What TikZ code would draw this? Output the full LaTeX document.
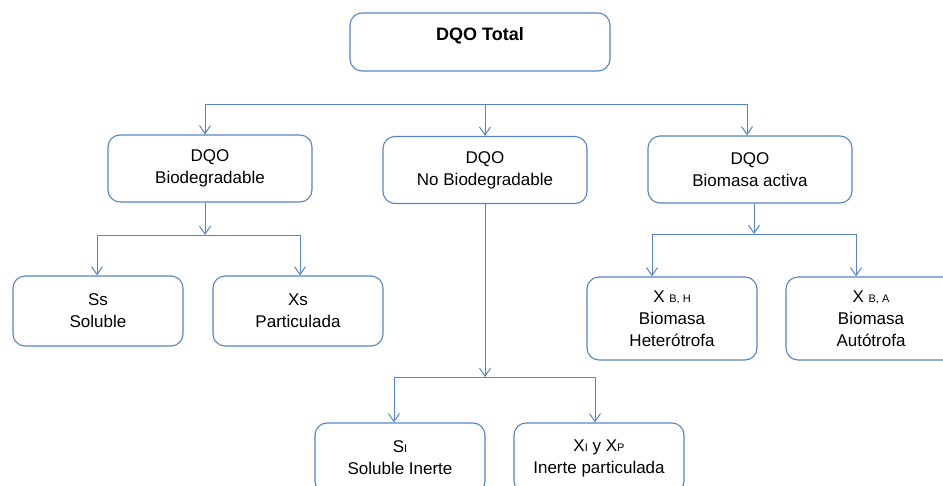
\documentclass[tikz,border=0pt]{standalone}
\usepackage{fontspec}
\setmainfont{Liberation Sans}
\usepackage{xcolor}
\usepackage{tikz}
\definecolor{azul}{HTML}{5585C5}
\usetikzlibrary{arrows.meta}
\usetikzlibrary{positioning}
\newcommand{\peq}[1]{{\fontsize{11}{11}\selectfont #1}}

\begin{document}
\begin{tikzpicture}[x=1pt, y=-1pt,
	caja/.style={draw=azul, line width=1.1pt, rounded corners=12pt, inner sep=0pt,
		minimum width=204pt, minimum height=67pt, align=center,
		font=\fontsize{17}{22}\selectfont},
	hoja/.style={caja, minimum width=170pt, minimum height=70pt},
	linea/.style={draw=azul, line width=1pt},
	flecha/.style={linea, -{Straight Barb[length=8pt,width=11pt]}}]

		%Rahmen
		\useasboundingbox (0,0) rectangle (943,485);
		\clip (0,0) rectangle (943,485);

		%Kasten oben
		\node [caja, minimum width=260pt, minimum height=58pt, text height=13pt, text depth=17pt,
			font=\fontsize{18}{22}\selectfont\bfseries] (total) at (480,42) {DQO Total};

		%Zweite Ebene
		\node [caja] (bio) at (210,168.5) {DQO\\Biodegradable};
		\node [caja] (nobio) at (485,170) {DQO\\No Biodegradable};
		\node [caja] (activa) at (750,169.5) {DQO\\Biomasa activa};

		%Dritte Ebene
		\node [hoja] (ss) at (98,311) {Ss\\Soluble};
		\node [hoja] (xs) at (298,311) {Xs\\Particulada};
		\node [hoja, minimum height=83pt] (xbh) at (672,318.5) {X \peq{B, H}\\Biomasa\\Heterótrofa};
		\node [hoja, minimum height=83pt] (xba) at (871,318.5) {X \peq{B, A}\\Biomasa\\Autótrofa};

		%Vierte Ebene
		\node [hoja] (si) at (400,458) {S\peq{I}\\Soluble Inerte};
		\node [hoja] (xixp) at (599,458) {X\peq{I} y X\peq{P}\\Inerte particulada};

		%Verzweigungen
		\coordinate (t1) at (205,104);
		\coordinate (t2) at (485,104);
		\coordinate (t3) at (747,104);
		\coordinate (bj) at (205,235);
		\coordinate (bl) at (97,235);
		\coordinate (br) at (300,235);
		\coordinate (aj) at (754,234);
		\coordinate (al) at (652,234);
		\coordinate (ar) at (856,234);
		\coordinate (nj) at (485,377);
		\coordinate (nl) at (394,377);
		\coordinate (nr) at (595,377);

		%Oben
		\draw [linea] (t1) -- (t3);
		\draw [flecha] (t1) -- (t1 |- bio.north);
		\draw [flecha] (t2) -- (t2 |- nobio.north);
		\draw [flecha] (t3) -- (t3 |- activa.north);

		%Biodegradable
		\draw [flecha] (bj |- bio.south) -- (bj);
		\draw [linea] (bl) -- (br);
		\draw [flecha] (bl) -- (bl |- ss.north);
		\draw [flecha] (br) -- (br |- xs.north);

		%Biomasa activa
		\draw [flecha] (aj |- activa.south) -- (aj);
		\draw [linea] (al) -- (ar);
		\draw [flecha] (al) -- (al |- xbh.north);
		\draw [flecha] (ar) -- (ar |- xba.north);

		%No Biodegradable
		\draw [flecha] (nobio.south) -- (nj);
		\draw [linea] (nl) -- (nr);
		\draw [flecha] (nl) -- (nl |- si.north);
		\draw [flecha] (nr) -- (nr |- xixp.north);
\end{tikzpicture}
\end{document}
